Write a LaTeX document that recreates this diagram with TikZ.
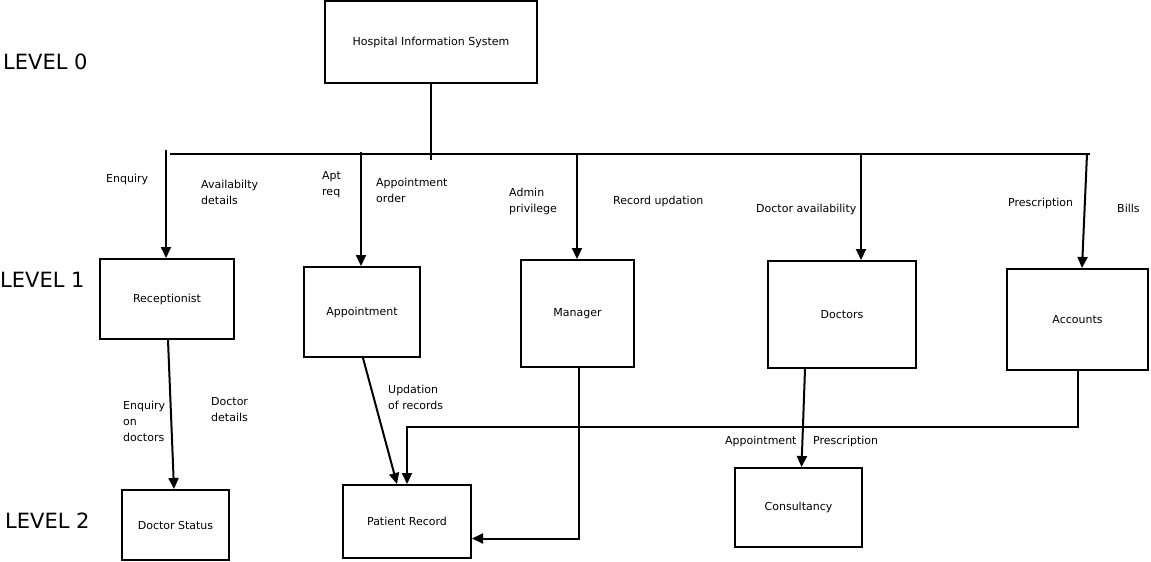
\documentclass[tikz,border=0pt]{standalone}
\usepackage{fontspec}
\setmainfont{DejaVu Sans}
\usepackage{tikz}
\usetikzlibrary{arrows.meta}
\tikzstyle{box}=[draw,line width=2pt,inner sep=0pt,font=\fontsize{11}{16}\selectfont]
\tikzstyle{flow}=[line width=2pt,-{Triangle[width=10pt,length=11pt]}]
\tikzstyle{wire}=[line width=2pt]
\tikzstyle{flowlabel}=[anchor=west,align=left,inner sep=0pt,font=\fontsize{11}{16}\selectfont]
\tikzstyle{levellabel}=[anchor=west,inner sep=0pt,font=\fontsize{21}{24}\selectfont]

\begin{document}
\begin{tikzpicture}[x=1pt,y=-1pt]
\useasboundingbox (0,0) rectangle (1151,562);
% levels
\node [levellabel] (lvl0) at (3,62) {LEVEL 0};
\node [levellabel] (lvl1) at (0,280) {LEVEL 1};
\node [levellabel] (lvl2) at (5,521) {LEVEL 2};
% boxes
\node [box,minimum width=212pt,minimum height=82pt] (his) at (431,42) {Hospital Information System};
\node [box,minimum width=134pt,minimum height=80pt] (rec) at (167,299) {Receptionist};
\node [box,minimum width=116pt,minimum height=90pt] (app) at (362,312) {Appointment};
\node [box,minimum width=113pt,minimum height=107pt] (man) at (577.5,313.5) {Manager};
\node [box,minimum width=148pt,minimum height=107pt] (doc) at (842,314.5) {Doctors};
\node [box,minimum width=141pt,minimum height=101pt] (acc) at (1077.5,319.5) {Accounts};
\node [box,minimum width=107pt,minimum height=70pt] (dst) at (175.5,525) {Doctor Status};
\node [box,minimum width=128pt,minimum height=73pt] (pat) at (407,521.5) {Patient Record};
\node [box,minimum width=127pt,minimum height=79pt] (con) at (798.5,507.5) {Consultancy};
% bus
\coordinate (busL) at (170,154);
\coordinate (busR) at (1090,154);
\coordinate (hisend) at (431,160);
\draw [wire] (busL) -- (busR);
\draw [wire] (his.south) -- (hisend);
\coordinate (tRec) at (166,150);
\coordinate (tApp) at (361,152);
\coordinate (tMan) at (577,154);
\coordinate (tDoc) at (861,154);
\coordinate (tAcc) at (1087,154);
\draw [flow] (tRec) -- ([xshift=-1pt]rec.north);
\draw [flow] (tApp) -- ([xshift=-1pt]app.north);
\draw [flow] (tMan) -- ([xshift=-0.5pt]man.north);
\draw [flow] (tDoc) -- ([xshift=19pt]doc.north);
\draw [flow] (tAcc) -- ([xshift=4.5pt]acc.north);
% level 2 flows
\draw [flow] ([xshift=1pt]rec.south) -- ([xshift=-1.5pt]dst.north);
\draw [flow] ([xshift=1pt]app.south) -- ([xshift=-10pt]pat.north);
\draw [flow] (acc.south) |- (407,427) -- (pat.north);
\draw [flow] ([xshift=1.5pt]man.south) |- ([yshift=-17pt]pat.east);
\draw [flow] ([xshift=-37pt]doc.south) -- ([xshift=3pt]con.north);
% labels
\node [flowlabel] (lEnq) at (106,179) {Enquiry};
\node [flowlabel] (lAvl) at (201,192) {Availabilty\\details};
\node [flowlabel] (lApt) at (322,185) {Apt\\req};
\node [flowlabel] (lOrd) at (376,190) {Appointment\\order};
\node [flowlabel] (lAdm) at (509,201) {Admin\\privilege};
\node [flowlabel] (lRec) at (613,201) {Record updation};
\node [flowlabel] (lDav) at (756,209) {Doctor availability};
\node [flowlabel] (lPre) at (1008,203) {Prescription};
\node [flowlabel] (lBil) at (1117,208) {Bills};
\node [flowlabel] (lEod) at (123,421) {Enquiry\\on\\doctors};
\node [flowlabel] (lDdt) at (211,410) {Doctor\\details};
\node [flowlabel] (lUpd) at (388,397) {Updation\\of records};
\node [flowlabel] (lCap) at (725,441) {Appointment};
\node [flowlabel] (lCpr) at (813,441) {Prescription};
\end{tikzpicture}
\end{document}
